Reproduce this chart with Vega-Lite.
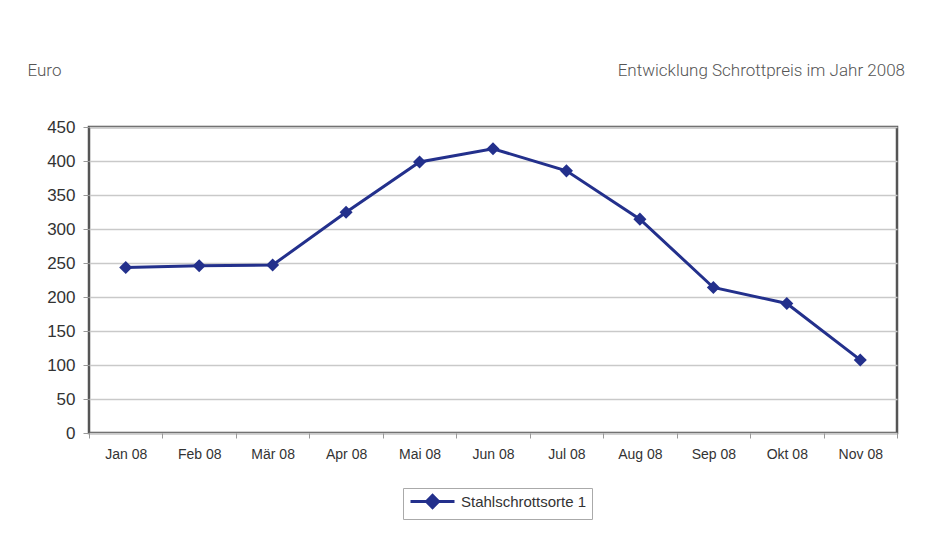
{
  "$schema": "https://vega.github.io/schema/vega-lite/v6.json",
  "width": 808,
  "height": 306,
  "autosize": {"type": "none"},
  "padding": {"left": 89, "top": 127, "right": 31, "bottom": 110},
  "background": "#ffffff",
  "title": {
    "text": "Entwicklung Schrottpreis im Jahr 2008",
    "anchor": "end",
    "frame": "group",
    "offset": -19,
    "dx": 8,
    "font": "Roboto",
    "fontSize": 17,
    "fontWeight": 300,
    "color": "#555555"
  },
  "data": {
    "values": [
      {"month": "Jan 08", "value": 243.5, "series": "Stahlschrottsorte 1"},
      {"month": "Feb 08", "value": 246, "series": "Stahlschrottsorte 1"},
      {"month": "Mär 08", "value": 247, "series": "Stahlschrottsorte 1"},
      {"month": "Apr 08", "value": 324.5, "series": "Stahlschrottsorte 1"},
      {"month": "Mai 08", "value": 398.5, "series": "Stahlschrottsorte 1"},
      {"month": "Jun 08", "value": 418, "series": "Stahlschrottsorte 1"},
      {"month": "Jul 08", "value": 385.5, "series": "Stahlschrottsorte 1"},
      {"month": "Aug 08", "value": 314.5, "series": "Stahlschrottsorte 1"},
      {"month": "Sep 08", "value": 214, "series": "Stahlschrottsorte 1"},
      {"month": "Okt 08", "value": 190.5, "series": "Stahlschrottsorte 1"},
      {"month": "Nov 08", "value": 107.5, "series": "Stahlschrottsorte 1"}
    ]
  },
  "encoding": {
    "x": {
      "field": "month",
      "type": "nominal",
      "sort": null,
      "scale": {"type": "band", "paddingInner": 0, "paddingOuter": 0},
      "axis": {
        "title": null,
        "labelAngle": 0,
        "tickBand": "extent",
        "domain": false,
        "grid": false,
        "ticks": true,
        "tickSize": 5,
        "tickColor": "#999999",
        "labelFont": "Liberation Sans",
        "labelFontSize": 14,
        "labelColor": "#333333",
        "labelPadding": 9
      }
    },
    "y": {
      "field": "value",
      "type": "quantitative",
      "scale": {"domain": [0, 450], "nice": false},
      "axis": {
        "values": [0, 50, 100, 150, 200, 250, 300, 350, 400, 450],
        "title": "Euro",
        "titleAngle": 0,
        "titleAlign": "left",
        "titleBaseline": "middle",
        "titleX": -62,
        "titleY": -57,
        "titleFont": "Roboto",
        "titleFontSize": 17,
        "titleFontWeight": 300,
        "titleColor": "#555555",
        "domain": false,
        "grid": true,
        "gridColor": "#c9c9c9",
        "gridWidth": 1.5,
        "ticks": true,
        "tickSize": 6,
        "tickColor": "#999999",
        "labelFont": "Liberation Sans",
        "labelFontSize": 17,
        "labelColor": "#333333",
        "labelPadding": 8
      }
    }
  },
  "layer": [
    {
      "mark": {"type": "line", "color": "#23308c", "strokeWidth": 3}
    },
    {
      "mark": {"type": "point", "shape": "diamond", "filled": true, "size": 170, "opacity": 1},
      "encoding": {
        "color": {
          "field": "series",
          "type": "nominal",
          "scale": {"range": ["#23308c"]},
          "legend": {
            "orient": "none",
            "legendX": 314,
            "legendY": 361,
            "title": null,
            "padding": 5,
            "strokeColor": "#aaaaaa",
            "symbolType": "M-0.857,0H5.43M1.43,0L2.29,-0.86L3.15,0L2.29,0.86Z",
            "symbolSize": 196,
            "symbolStrokeColor": "#23308c",
            "symbolStrokeWidth": 3,
            "symbolOpacity": 1,
            "labelFont": "Liberation Sans",
            "labelFontSize": 15,
            "labelColor": "#333333",
            "labelOffset": 36
          }
        }
      }
    }
  ],
  "config": {
    "view": {"stroke": "#555555", "strokeWidth": 2.5}
  }
}
